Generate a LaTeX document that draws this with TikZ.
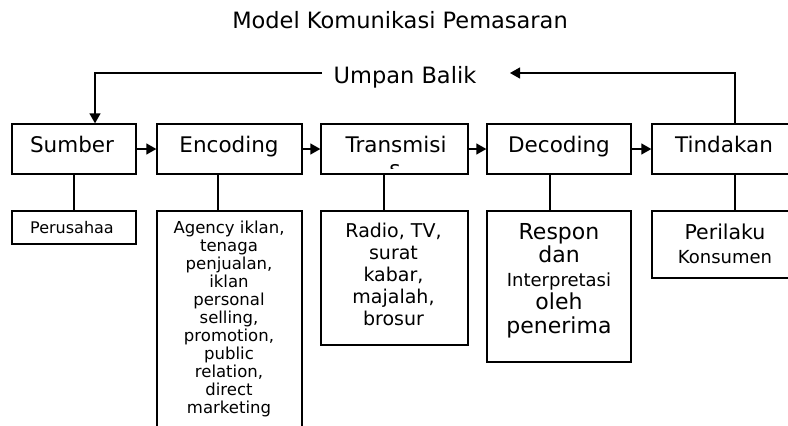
\documentclass[tikz,border=0pt]{standalone}
\usepackage{fontspec}
\setmainfont{DejaVu Sans}
\usetikzlibrary{arrows.meta}
\tikzset{
  boxnode/.style={draw, rectangle, inner sep=0pt, line width=1.3pt},
  lbl/.style={inner sep=0pt, font=\fontsize{21.5}{24}\selectfont},
  conn/.style={line width=1.3pt},
  arr/.style={line width=1.3pt, -{Triangle[length=10pt,width=11pt]}},
  multi/.style={inner sep=0pt, align=center, anchor=north}
}
\begin{document}
\begin{tikzpicture}[x=1pt,y=-1pt]
\useasboundingbox (0,0) rectangle (788,426);
\clip (0,0) rectangle (788,426);
% title
\node[inner sep=0pt, anchor=base, font=\fontsize{22.5}{24}\selectfont] (title) at (400,28) {Model Komunikasi Pemasaran};
% top boxes
\node[boxnode, minimum width=124pt, minimum height=50pt] (s) at (74,149) {};
\node[boxnode, minimum width=145pt, minimum height=50pt] (e) at (229.5,149) {};
\node[boxnode, minimum width=147pt, minimum height=50pt] (t) at (394.5,149) {};
\node[boxnode, minimum width=144pt, minimum height=50pt] (d) at (559,149) {};
\node[boxnode, minimum width=144pt, minimum height=50pt] (k) at (724,149) {};
\node[lbl, anchor=base] (sl) at (72,152) {Sumber};
\node[lbl, anchor=base] (el) at (229,152) {Encoding};
\node[lbl, anchor=base] (tl) at (396,152) {Transmisi};
\begin{scope}
  \clip (321,124) rectangle (468,168);
  \node[lbl, anchor=base] (tl2) at (395,176) {s};
\end{scope}
\node[lbl, anchor=base] (dl) at (559,152) {Decoding};
\node[lbl, anchor=base] (kl) at (724,152) {Tindakan};
% arrows between top boxes
\draw[arr] (s.east) -- (e.west);
\draw[arr] (e.east) -- (t.west);
\draw[arr] (t.east) -- (d.west);
\draw[arr] (d.east) -- (k.west);
% feedback
\node[inner sep=0pt, anchor=base, font=\fontsize{22.5}{24}\selectfont] (fb) at (405,83) {Umpan Balik};
\coordinate (fbL) at (322,73);
\coordinate (fbR) at (510,73);
\coordinate (kx) at (735,0);
\coordinate (sx) at (95,0);
\draw[arr] (k.north -| kx) |- (fbR);
\draw[arr] (fbL) -| (s.north -| sx);
% bottom boxes
\node[boxnode, minimum width=124pt, minimum height=33pt] (sb) at (74,227.5) {};
\node[boxnode, minimum width=145pt, minimum height=229pt] (eb) at (229.5,325.5) {};
\node[boxnode, minimum width=147pt, minimum height=134pt] (tb) at (394.5,278) {};
\node[boxnode, minimum width=144pt, minimum height=151pt] (db) at (559,286.5) {};
\node[boxnode, minimum width=144pt, minimum height=67pt] (kb) at (724,244.5) {};
% connectors
\coordinate (ex) at (218,0);
\coordinate (tx) at (384,0);
\coordinate (dx) at (550,0);
\draw[conn] (s.south) -- (sb.north);
\draw[conn] (e.south -| ex) -- (eb.north -| ex);
\draw[conn] (t.south -| tx) -- (tb.north -| tx);
\draw[conn] (d.south -| dx) -- (db.north -| dx);
\draw[conn] (k.south -| kx) -- (kb.north -| kx);
% bottom texts
\node[inner sep=0pt, anchor=base, font=\fontsize{16}{20}\selectfont] (sbt) at (72,233) {Perusahaa};
\node[multi, font=\fontsize{16.5}{18}\selectfont] (ebt) at (229,220.5) {Agency iklan,\\tenaga\\penjualan,\\iklan\\personal\\selling,\\promotion,\\public\\relation,\\direct\\marketing};
\node[multi, font=\fontsize{19}{22.2}\selectfont] (tbt) at (393.5,222.5) {Radio, TV,\\surat\\kabar,\\majalah,\\brosur};
\node[multi, font=\fontsize{22}{23.5}\selectfont] (dbt) at (559,223) {Respon\\dan\\{\fontsize{18}{23.5}\selectfont Interpretasi}\\oleh\\penerima};
\node[multi, font=\fontsize{20.5}{24}\selectfont] (kbt) at (725,223.5) {Perilaku\\{\fontsize{18}{24}\selectfont Konsumen}};
\end{tikzpicture}
\end{document}
